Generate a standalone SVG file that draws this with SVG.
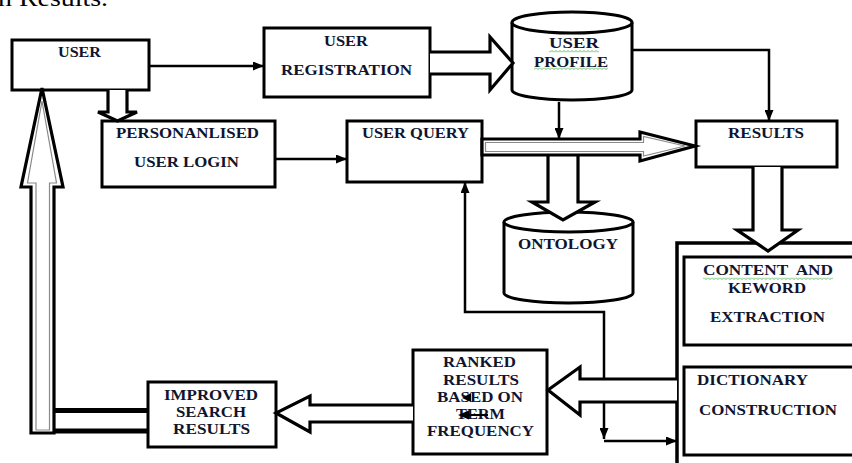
<svg xmlns="http://www.w3.org/2000/svg" width="852" height="463" viewBox="0 0 852 463">
<defs>
<style>
.box{fill:#fff;stroke:#000;stroke-width:3}
.blk{fill:#fff;stroke:#000;stroke-width:3.2;stroke-linejoin:miter}
.inner{fill:none;stroke:#8a8a8a;stroke-width:1.2}
.ln{fill:none;stroke:#000;stroke-width:2.5}
.t{font-family:"Liberation Serif","Times New Roman",serif;font-weight:bold;font-size:14.5px;fill:#10142e}
.cap{font-family:"Liberation Serif","Times New Roman",serif;font-size:24px;fill:#000}
</style>
<marker id="ah" markerUnits="userSpaceOnUse" markerWidth="11" markerHeight="9" refX="11" refY="4.5" orient="auto-start-reverse">
<path d="M0,0 L11,4.5 L0,9 Z" fill="#000"/>
</marker>
<pattern id="wavy" width="4" height="2.5" patternUnits="userSpaceOnUse">
<path d="M0,0.5 L2,2 L4,0.5" fill="none" stroke="#3fa83f" stroke-width="0.8"/>
</pattern>
</defs>
<rect width="852" height="463" fill="#fff"/>
<text class="cap" x="-2" y="6" textLength="110" lengthAdjust="spacingAndGlyphs">n Results.</text>

<g id="connectors">
<path class="ln" d="M150,66 L264,66" marker-end="url(#ah)"/>
<path class="ln" d="M275,159 L347,159" marker-end="url(#ah)"/>
<path class="ln" d="M631,50 L769,50 L769,121" marker-end="url(#ah)"/>
<path class="ln" d="M559,102 L559,139" marker-end="url(#ah)"/>
<path class="ln" d="M604,439 L604,312 L465,312 L465,182" marker-start="url(#ah)" marker-end="url(#ah)"/>
<path class="ln" d="M604,441 L677,441" marker-end="url(#ah)"/>
</g>

<g id="user">
<rect class="box" x="12" y="40" width="137" height="50"/>
<text class="t" x="58" y="57" textLength="43" lengthAdjust="spacingAndGlyphs">USER</text>
</g>

<g id="user-registration">
<rect class="box" x="264" y="28" width="166" height="69"/>
<text class="t" x="324" y="46" textLength="44" lengthAdjust="spacingAndGlyphs">USER</text>
<text class="t" x="281" y="75" textLength="131" lengthAdjust="spacingAndGlyphs">REGISTRATION</text>
</g>

<g id="user-profile">
<path class="box" d="M512,22.5 L512,90 A60,10 0 0 0 632,90 L632,22.5"/>
<ellipse class="box" cx="572" cy="22.5" rx="60" ry="10.5"/>
<text class="t" x="549" y="48" textLength="50" lengthAdjust="spacingAndGlyphs">USER</text>
<text class="t" x="534" y="67" textLength="74" lengthAdjust="spacingAndGlyphs">PROFILE</text>
<rect x="549" y="50" width="50" height="2.5" fill="url(#wavy)"/>
<rect x="534" y="67.5" width="74" height="2.5" fill="url(#wavy)"/>
</g>

<g id="personalised-login">
<rect class="box" x="102" y="121" width="173" height="66"/>
<text class="t" x="116" y="138" textLength="143" lengthAdjust="spacingAndGlyphs">PERSONANLISED</text>
<text class="t" x="134" y="167" textLength="105" lengthAdjust="spacingAndGlyphs">USER LOGIN</text>
</g>

<g id="user-query">
<rect class="box" x="347" y="121" width="135" height="61"/>
<text class="t" x="362" y="138" textLength="107" lengthAdjust="spacingAndGlyphs">USER QUERY</text>
</g>

<g id="results">
<rect class="box" x="696" y="121" width="141" height="46"/>
<text class="t" x="728" y="138" textLength="76" lengthAdjust="spacingAndGlyphs">RESULTS</text>
</g>

<g id="ontology">
<path class="box" d="M504,222 L504,293 A64.5,10 0 0 0 633,293 L633,222"/>
<ellipse class="box" cx="568.5" cy="222" rx="64.5" ry="10"/>
<text class="t" x="518" y="249" textLength="100" lengthAdjust="spacingAndGlyphs">ONTOLOGY</text>
</g>

<g id="processing-container">
<path d="M677,470 L677,243 L860,243" fill="none" stroke="#000" stroke-width="3.5"/>
</g>

<g id="content-keyword-extraction">
<rect class="box" x="684" y="257" width="180" height="88"/>
<text class="t" x="703" y="275" textLength="130" lengthAdjust="spacingAndGlyphs" style="white-space:pre">CONTENT  AND</text>
<rect x="703" y="277.5" width="130" height="2.5" fill="url(#wavy)"/>
<text class="t" x="728" y="293" textLength="78" lengthAdjust="spacingAndGlyphs">KEWORD</text>
<text class="t" x="710" y="322" textLength="115" lengthAdjust="spacingAndGlyphs">EXTRACTION</text>
</g>

<g id="dictionary-construction">
<rect class="box" x="684" y="367" width="180" height="88"/>
<text class="t" x="697" y="385" textLength="111" lengthAdjust="spacingAndGlyphs">DICTIONARY</text>
<text class="t" x="699" y="415" textLength="138" lengthAdjust="spacingAndGlyphs">CONSTRUCTION</text>
</g>

<g id="ranked-results">
<rect class="box" x="413" y="350" width="134" height="104"/>
<text class="t" x="443" y="367" textLength="73" lengthAdjust="spacingAndGlyphs">RANKED</text>
<text class="t" x="443" y="385" textLength="76" lengthAdjust="spacingAndGlyphs">RESULTS</text>
<text class="t" x="437" y="402" textLength="86" lengthAdjust="spacingAndGlyphs">BASED ON</text>
<text class="t" x="456" y="419" textLength="49" lengthAdjust="spacingAndGlyphs">TERM</text>
<text class="t" x="427" y="436" textLength="107" lengthAdjust="spacingAndGlyphs">FREQUENCY</text>
<path d="M488,415 L466,415" stroke="#000" stroke-width="2"/>
<polygon points="458,415 469,410.5 469,419.5" fill="#000"/>
<polygon points="462,398 471,393 471,402" fill="#000"/>
</g>

<g id="improved-search-results">
<rect class="box" x="148" y="382" width="128" height="65"/>
<text class="t" x="164" y="400" textLength="94" lengthAdjust="spacingAndGlyphs">IMPROVED</text>
<text class="t" x="176" y="417" textLength="70" lengthAdjust="spacingAndGlyphs">SEARCH</text>
<text class="t" x="173" y="434" textLength="77" lengthAdjust="spacingAndGlyphs">RESULTS</text>
</g>

<g id="block-arrows">
<path class="blk" d="M108,90 L108,112 L98,112 L117.5,121 L137,112 L127,112 L127,90"/>
<path class="blk" d="M430,52 L490,52 L490,37 L513,63 L490,90 L490,74 L430,74"/>
<path class="blk" d="M548,155 L548,202 L532,202 L563,220 L595,202 L578,202 L578,155"/>
<path class="blk" d="M482,139 L640,139 L640,132 L695,146 L640,161 L640,155 L482,155 Z"/>
<path class="inner" d="M485.5,142.5 L643.5,142.5 L643.5,136.5 L685,146 L643.5,156 L643.5,151.5 L485.5,151.5 Z"/>
<path class="blk" d="M753,167 L753,230 L737,230 L768,251 L798,230 L782,230 L782,167"/>
<path class="blk" d="M677,379 L580,379 L580,367 L548,390 L580,415 L580,402 L677,402"/>
<path class="blk" d="M413,405 L310,405 L310,396 L276,413 L310,432 L310,422 L413,422"/>
<path class="blk" d="M31,433 L31,187 L21,187 L42,88 L63,187 L54,187 L54,433 Z" stroke-width="3.5"/>
<path class="inner" d="M36,430 L36,183 L27.5,183 L42,101 L56.5,183 L49.5,183 L49.5,430 Z"/>
<path d="M54,410.5 L148,410.5 M54,431 L148,431" stroke="#000" stroke-width="5" fill="none"/>
</g>
</svg>
